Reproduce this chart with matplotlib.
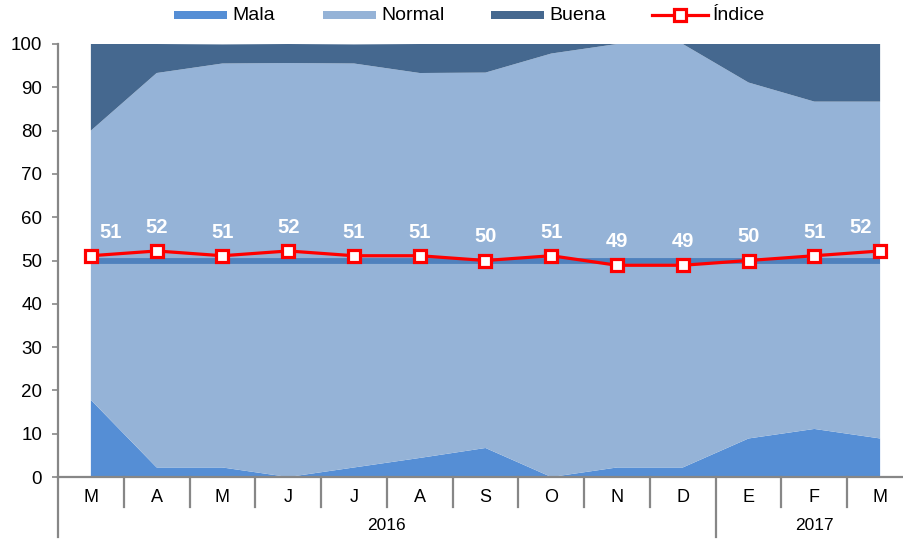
import matplotlib
matplotlib.use('Agg')
import matplotlib.pyplot as plt
from matplotlib.patches import Rectangle
from matplotlib.lines import Line2D
import matplotlib.transforms as mtransforms

plt.rcParams['font.family'] = ['Liberation Sans', 'DejaVu Sans']

months = ['M', 'A', 'M', 'J', 'J', 'A', 'S', 'O', 'N', 'D', 'E', 'F', 'M']
years = ['2016', '2017']
year_counts = [10, 3]
mala = [17.8, 2.2, 2.2, 0.0, 2.2, 4.4, 6.7, 0.0, 2.2, 2.2, 8.9, 11.1, 8.9]
normal = [62.2, 91.1, 93.3, 95.6, 93.3, 88.9, 86.7, 97.8, 97.8, 97.8, 82.2, 75.6, 77.8]
buena = [20.0, 6.7, 4.4, 4.4, 4.4, 6.7, 6.7, 2.2, 0.0, 0.0, 8.9, 13.3, 13.3]
indice = [51.1, 52.2, 51.1, 52.2, 51.1, 51.1, 50.0, 51.1, 48.9, 48.9, 50.0, 51.1, 52.2]
referencia = [50] * 13
yticks = list(range(0, 101, 10))

C_MALA = '#558ED5'
C_NORMAL = '#95B3D7'
C_BUENA = '#45688F'
C_REF = '#4F81BD'
C_GRAY = '#878787'

W, H = 904, 539
fig = plt.figure(figsize=(W / 100, H / 100), dpi=100)
ax_left, ax_right, ax_top, ax_bot = 58, 913, 44, 477
ax = fig.add_axes([ax_left / W, 1 - ax_bot / H, (ax_right - ax_left) / W, (ax_bot - ax_top) / H])

x = list(range(len(months)))
ax.stackplot(x, mala, normal, buena, colors=[C_MALA, C_NORMAL, C_BUENA], linewidth=0, zorder=1)
ax.plot(x, referencia, color=C_REF, lw=4.2, solid_capstyle='butt', zorder=2)
ax.plot(x, indice, color='#FF0000', lw=2.3, marker='s', markersize=8.5,
        markerfacecolor='white', markeredgecolor='#FF0000', markeredgewidth=2.3, zorder=3)

n = len(indice)
for i, v in enumerate(indice):
    dx = 0
    if i == 0:
        dx = 14
    elif i == n - 1:
        dx = -14
    ax.annotate(f'{v:.0f}', (i, v), xytext=(dx, 17), textcoords='offset points',
                ha='center', va='center', color='white', fontsize=14.5, fontweight='bold', zorder=4)

ax.set_xlim(-0.5, len(months) - 0.5)
ax.set_ylim(0, 100)
ax.set_yticks(yticks)
ax.tick_params(axis='y', direction='out', length=4.5, width=1.2, color=C_GRAY, labelsize=13.5, pad=7)
ax.set_xticks([])
for s in ['top', 'right']:
    ax.spines[s].set_visible(False)
for s in ['left', 'bottom']:
    ax.spines[s].set_color(C_GRAY)
    ax.spines[s].set_linewidth(1.6)

# multi-level category axis
px = 1.0 / (ax_bot - ax_top)
trans = mtransforms.blended_transform_factory(ax.transData, ax.transAxes)
for i, m in enumerate(months):
    ax.text(i, -20 * px, m, transform=trans, ha='center', va='center', fontsize=13, clip_on=False)
boundaries = []
acc = 0
for c in year_counts:
    acc += c
    boundaries.append(acc)
for i in range(1, len(months) + 1):
    bx = i - 0.5
    long = i in boundaries
    y1 = -60 * px if long else -30 * px
    ax.add_line(Line2D([bx, bx], [0, y1], transform=trans, color=C_GRAY, lw=1.6, clip_on=False))
ax.add_line(Line2D([-0.5, -0.5], [0, -60 * px], transform=trans, color=C_GRAY, lw=1.6, clip_on=False))
start = 0
for y, c in zip(years, year_counts):
    cx = start + c / 2 - 0.5
    ax.text(cx, -48 * px, y, transform=trans, ha='center', va='center', fontsize=12.5, clip_on=False)
    start += c

# legend (manual, figure pixel coords)
def fx(v):
    return v / W

def fy(v):
    return 1 - v / H

legend_items = [('Mala', C_MALA, 174), ('Normal', C_NORMAL, 323), ('Buena', C_BUENA, 491)]
for name, col, x0 in legend_items:
    fig.add_artist(Rectangle((fx(x0), fy(19)), 53 / W, 8 / H, transform=fig.transFigure,
                             facecolor=col, edgecolor='none'))
    fig.text(fx(x0 + 58), fy(15), name, ha='left', va='center', fontsize=14)
fig.add_artist(Line2D([fx(652), fx(708)], [fy(15), fy(15)], transform=fig.transFigure,
                      color='#FF0000', lw=2.3))
fig.add_artist(Line2D([fx(680)], [fy(15)], transform=fig.transFigure, color='#FF0000', lw=0,
                      marker='s', markersize=8.5, markerfacecolor='white',
                      markeredgecolor='#FF0000', markeredgewidth=2.3))
fig.text(fx(713), fy(15), 'Índice', ha='left', va='center', fontsize=14)

fig.savefig('out.png', dpi=100)
